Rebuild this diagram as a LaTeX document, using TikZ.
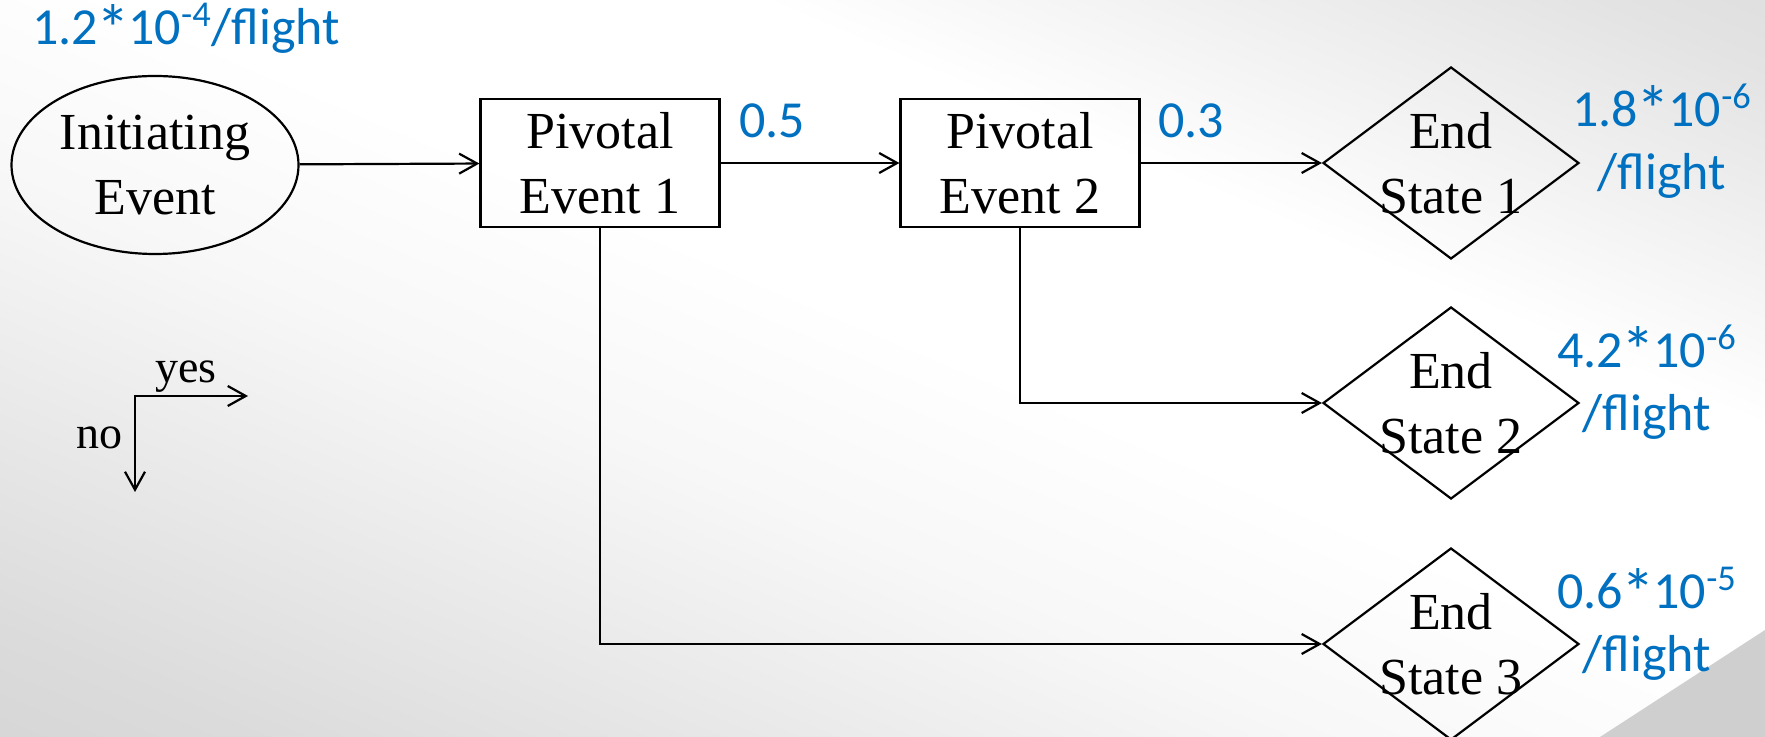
\documentclass[tikz,border=0pt]{standalone}
\usepackage{fontspec}
\usepackage{graphicx}
\setmainfont{Liberation Serif}
\newfontfamily\calibri{Carlito}
\usepackage{tikz}
\usetikzlibrary{shapes.geometric, arrows.meta, calc}
\definecolor{probblue}{HTML}{0070C0}
\pgfdeclarehorizontalshading{slidebg}{100bp}{color(0bp)=(gray!44); color(22bp)=(gray!28); color(42bp)=(gray!6); color(52bp)=(white); color(64bp)=(white); color(80bp)=(gray!22); color(100bp)=(gray!40)}
\newcommand{\probast}{\kern-0.02em\raisebox{-0.14em}{\scalebox{1.3}{*}}\kern-0.04em}

\begin{document}
\begin{tikzpicture}[x=0.5pt, y=-0.5pt, line width=1.1pt, >={Straight Barb[length=9pt, width=10pt]}]
\tikzset{every node/.style={font=\fontsize{26pt}{32.5pt}\selectfont, align=center, inner sep=0}, event/.style={ellipse, draw, minimum width=143.5pt, minimum height=89pt}, pivot/.style={rectangle, draw, minimum width=119.5pt, minimum height=64pt}, endstate/.style={diamond, draw, minimum width=128pt, minimum height=96pt}, prob/.style={text=probblue, font=\calibri\fontsize{26pt}{31.5pt}\selectfont}, legend/.style={font=\fontsize{23pt}{27pt}\selectfont}}

% Normalize bounding box
\useasboundingbox (0,0) rectangle (1765,737);
\clip (0,0) rectangle (1765,737);
\shade[shading=slidebg, shading angle=67] (0,0) rectangle (1765,737);
\fill[gray!38] (1600,737) -- (1765,630) -- (1765,737) -- cycle;

\node[event] (IE) at (155,165) {Initiating\\Event};
\node[pivot] (PE1) at (600,163) {Pivotal\\Event 1};
\node[pivot] (PE2) at (1020,163) {Pivotal\\Event 2};
\node[endstate, label={center:End\\State 1}] (ES1) at (1451,163) {};
\node[endstate, label={center:End\\State 2}] (ES2) at (1451,403) {};
\node[endstate, label={center:End\\State 3}] (ES3) at (1451,644) {};

\node[prob, anchor=base west] (fIE) at (31,45) {1.2\probast10\textsuperscript{-4}/flight};
\node[prob, anchor=base west] (pPE1) at (738,138) {0.5};
\node[prob, anchor=base west] (pPE2) at (1157,138) {0.3};
\node[prob] (fES1) at (1662,141) {1.8\probast10\textsuperscript{-6}\\/flight};
\node[prob] (fES2) at (1647,382) {4.2\probast10\textsuperscript{-6}\\/flight};
\node[prob] (fES3) at (1647,624) {0.6\probast10\textsuperscript{-5}\\/flight};

\draw[->] (IE) -- (PE1);
\draw[->] (PE1) -- (PE2);
\draw[->] (PE2) -- (ES1);
\draw[->] (PE2.south) |- (ES2.west);
\draw[->] (PE1.south) |- (ES3.west);

% yes / no key
\coordinate (L) at (135,396);
\coordinate (Lyes) at (248,396);
\coordinate (Lno) at (135,492);
\draw[<->] (Lyes) -- (L) -- (Lno);
\node[legend, anchor=base] (yes) at (186,382) {yes};
\node[legend, anchor=base east] (no) at (124,448) {no};

\end{tikzpicture}
\end{document}
